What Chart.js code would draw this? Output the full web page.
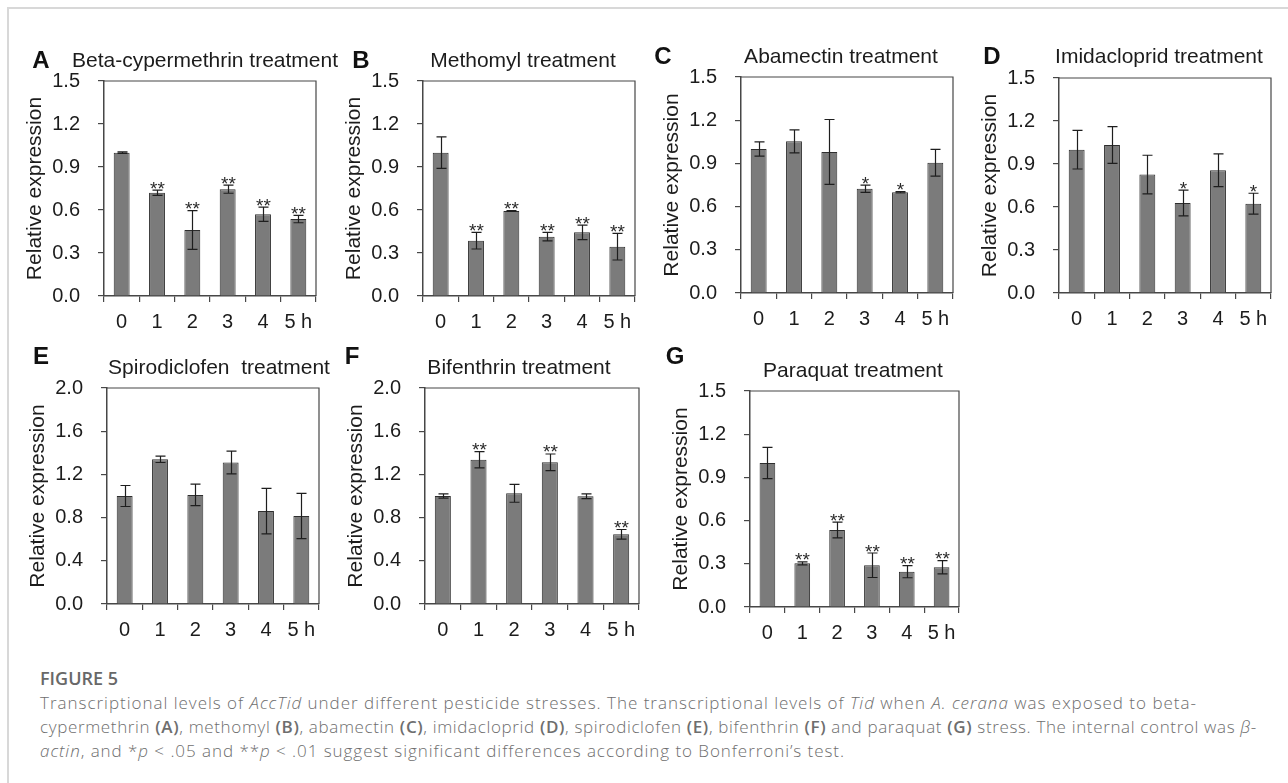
<!DOCTYPE html>
<html>
<head>
<meta charset="utf-8">
<script src="https://cdn.jsdelivr.net/npm/chart.js@4.4.1/dist/chart.umd.min.js"></script>
<style>
  html, body { margin: 0; padding: 0; background: #ffffff; }
  #page { position: relative; width: 1288px; height: 783px; overflow: hidden; background: #ffffff; }
  #frame { position: absolute; left: 7px; top: 7px; width: 1400px; height: 900px;
           border-left: 2px solid #d8d8d8; border-top: 2px solid #d8d8d8; }
  canvas.panel { position: absolute; }
  .cap { position: absolute; left: 40px; white-space: nowrap; font-family: "Open Sans", Lato, sans-serif;
         color: #6e6e6e; line-height: 24px; }
  #figLabel { top: 666px; font-size: 18px; font-weight: 600; color: #686868; }
  #capText { top: 691px; font-size: 17px; font-weight: 300; }
  #capText b { font-weight: 600; }
  #capText .ln { display: inline-block; }
</style>
</head>
<body>
<div id="page">
  <div id="frame"></div>
  <div id="figLabel" class="cap">FIGURE 5</div>
  <div id="capText" class="cap">
    <div><span class="ln" data-w="1157">Transcriptional levels of <i>AccTid</i> under different pesticide stresses. The transcriptional levels of <i>Tid</i> when <i>A. cerana</i> was exposed to beta-</span></div>
    <div><span class="ln" data-w="1217">cypermethrin <b>(A)</b>, methomyl <b>(B)</b>, abamectin <b>(C)</b>, imidacloprid <b>(D)</b>, spirodiclofen <b>(E)</b>, bifenthrin <b>(F)</b> and paraquat <b>(G)</b> stress. The internal control was <i>β</i>-</span></div>
    <div><span class="ln" data-w="805"><i>actin</i>, and *<i>p</i> &lt; .05 and **<i>p</i> &lt; .01 suggest significant differences according to Bonferroni’s test.</span></div>
  </div>
</div>
<script>
// Sampling times after exposure
const hours = ['0', '1', '2', '3', '4', '5 h'];

// Y-axis tick values
const ticksTo15 = [0, 0.3, 0.6, 0.9, 1.2, 1.5];
const ticksTo20 = [0, 0.4, 0.8, 1.2, 1.6, 2.0];

// Relative expression (mean), error (SD) and significance marks per treatment
const betaCypermethrinMean = [1.00, 0.72, 0.46, 0.745, 0.57, 0.537];
const betaCypermethrinErr  = [0.005, 0.018, 0.135, 0.028, 0.05, 0.026];
const betaCypermethrinSig  = ['', '**', '**', '**', '**', '**'];

const methomylMean = [1.00, 0.386, 0.593, 0.414, 0.444, 0.344];
const methomylErr  = [0.11, 0.058, 0.003, 0.03, 0.05, 0.093];
const methomylSig  = ['', '**', '**', '**', '**', '**'];

const abamectinMean = [1.00, 1.053, 0.98, 0.724, 0.70, 0.905];
const abamectinErr  = [0.05, 0.08, 0.225, 0.025, 0.005, 0.093];
const abamectinSig  = ['', '', '', '*', '*', ''];

const imidaclopridMean = [1.00, 1.033, 0.826, 0.628, 0.856, 0.623];
const imidaclopridErr  = [0.135, 0.128, 0.135, 0.09, 0.114, 0.073];
const imidaclopridSig  = ['', '', '', '*', '', '*'];

const spirodiclofenMean = [1.00, 1.34, 1.01, 1.31, 0.86, 0.815];
const spirodiclofenErr  = [0.097, 0.03, 0.1, 0.105, 0.21, 0.21];
const spirodiclofenSig  = ['', '', '', '', '', ''];

const bifenthrinMean = [1.00, 1.336, 1.025, 1.312, 0.997, 0.645];
const bifenthrinErr  = [0.02, 0.075, 0.083, 0.077, 0.022, 0.045];
const bifenthrinSig  = ['', '**', '', '**', '', '**'];

const paraquatMean = [1.00, 0.303, 0.535, 0.29, 0.245, 0.276];
const paraquatErr  = [0.108, 0.01, 0.055, 0.085, 0.042, 0.046];
const paraquatSig  = ['', '**', '**', '**', '**', '**'];

// Panel placement: plot box [left, top, width, height], letter and title centres (page px)
const panels = [
  { letter: 'A', title: 'Beta-cypermethrin treatment', mean: betaCypermethrinMean, err: betaCypermethrinErr, sig: betaCypermethrinSig, ticks: ticksTo15,
    plot: [104, 81, 212, 215], letterAt: [41, 61], titleAt: [205, 61] },
  { letter: 'B', title: 'Methomyl treatment', mean: methomylMean, err: methomylErr, sig: methomylSig, ticks: ticksTo15,
    plot: [423, 81, 212, 215], letterAt: [361, 61], titleAt: [523, 61] },
  { letter: 'C', title: 'Abamectin treatment', mean: abamectinMean, err: abamectinErr, sig: abamectinSig, ticks: ticksTo15,
    plot: [741, 77, 212, 216], letterAt: [663, 57], titleAt: [841, 57] },
  { letter: 'D', title: 'Imidacloprid treatment', mean: imidaclopridMean, err: imidaclopridErr, sig: imidaclopridSig, ticks: ticksTo15,
    plot: [1059, 78, 212, 215], letterAt: [992, 57], titleAt: [1159, 57] },
  { letter: 'E', title: 'Spirodiclofen  treatment', mean: spirodiclofenMean, err: spirodiclofenErr, sig: spirodiclofenSig, ticks: ticksTo20,
    plot: [107, 388, 212, 216], letterAt: [41, 357], titleAt: [219, 368] },
  { letter: 'F', title: 'Bifenthrin treatment', mean: bifenthrinMean, err: bifenthrinErr, sig: bifenthrinSig, ticks: ticksTo20,
    plot: [425, 388, 214, 216], letterAt: [352, 357], titleAt: [519, 368] },
  { letter: 'G', title: 'Paraquat treatment', mean: paraquatMean, err: paraquatErr, sig: paraquatSig, ticks: ticksTo15,
    plot: [750, 391, 209, 216], letterAt: [675, 357], titleAt: [853, 371] }
];

const FONT = "'Liberation Sans', Arial, Helvetica, sans-serif";
const INK = '#1c1c1c';
const AXIS = '#474747';

// Space reserved around the plot box inside each canvas
const PAD_LEFT = 100, PAD_TOP = 50, PAD_RIGHT = 40, PAD_BOTTOM = 45;

// Error bars with caps, plus significance asterisks above them
const errorBars = {
  id: 'errorBars',
  afterDatasetsDraw(chart, args, opts) {
    const { ctx } = chart;
    const y = chart.scales.y;
    const meta = chart.getDatasetMeta(0);
    const values = chart.data.datasets[0].data;
    ctx.save();
    ctx.strokeStyle = '#1e1e1e';
    ctx.lineWidth = 1.2;
    ctx.fillStyle = '#2a2a2a';
    ctx.font = '19px ' + FONT;
    ctx.textAlign = 'center';
    ctx.textBaseline = 'alphabetic';
    meta.data.forEach((bar, i) => {
      const m = values[i], e = opts.err[i];
      const cx = Math.round(bar.x) + 0.5;
      const yHi = y.getPixelForValue(m + e);
      const yLo = y.getPixelForValue(m - e);
      const cap = 5;
      ctx.beginPath();
      ctx.moveTo(cx, yHi); ctx.lineTo(cx, yLo);
      ctx.moveTo(cx - cap, yHi); ctx.lineTo(cx + cap, yHi);
      ctx.moveTo(cx - cap, yLo); ctx.lineTo(cx + cap, yLo);
      ctx.stroke();
      if (opts.sig[i]) ctx.fillText(opts.sig[i], cx, yHi + 4.5);
    });
    ctx.restore();
  }
};

// Top and right edges of the plot box
const plotBox = {
  id: 'plotBox',
  afterDraw(chart) {
    const { ctx, chartArea: a } = chart;
    ctx.save();
    ctx.strokeStyle = AXIS;
    ctx.lineWidth = 1.2;
    ctx.beginPath();
    ctx.moveTo(a.left, a.top); ctx.lineTo(a.right, a.top); ctx.lineTo(a.right, a.bottom);
    ctx.stroke();
    ctx.restore();
  }
};

// Panel letter and panel heading
const panelHeading = {
  id: 'panelHeading',
  afterDraw(chart, args, opts) {
    const { ctx } = chart;
    ctx.save();
    ctx.fillStyle = '#111';
    ctx.textAlign = 'center';
    ctx.textBaseline = 'middle';
    ctx.font = 'bold 24px ' + FONT;
    ctx.fillText(opts.letter, opts.letterX, opts.letterY);
    ctx.fillStyle = INK;
    ctx.font = '21px ' + FONT;
    ctx.fillText(opts.title, opts.titleX, opts.titleY);
    ctx.restore();
  }
};

const page = document.getElementById('page');

panels.forEach(p => {
  const [pl, pt, pw, ph] = p.plot;
  const cl = pl - PAD_LEFT, ct = pt - PAD_TOP;
  const cw = pw + PAD_LEFT + PAD_RIGHT, ch = ph + PAD_TOP + PAD_BOTTOM;
  const canvas = document.createElement('canvas');
  canvas.className = 'panel';
  canvas.width = cw; canvas.height = ch;
  canvas.style.left = cl + 'px'; canvas.style.top = ct + 'px';
  canvas.style.width = cw + 'px'; canvas.style.height = ch + 'px';
  page.appendChild(canvas);

  const yMax = p.ticks[p.ticks.length - 1];

  new Chart(canvas.getContext('2d'), {
    type: 'bar',
    data: {
      labels: hours,
      datasets: [{
        data: p.mean,
        backgroundColor: '#7b7b7b',
        borderColor: '#2e2e2e',
        borderWidth: 1,
        barPercentage: 0.45,
        categoryPercentage: 1
      }]
    },
    plugins: [errorBars, plotBox, panelHeading],
    options: {
      responsive: false,
      animation: false,
      devicePixelRatio: 1,
      layout: { padding: { left: 0, top: PAD_TOP, right: PAD_RIGHT, bottom: 0 } },
      plugins: {
        legend: { display: false },
        tooltip: { enabled: false },
        title: { display: false },
        errorBars: { err: p.err, sig: p.sig },
        panelHeading: {
          letter: p.letter, title: p.title,
          letterX: p.letterAt[0] - cl, letterY: p.letterAt[1] - ct,
          titleX: p.titleAt[0] - cl, titleY: p.titleAt[1] - ct
        }
      },
      scales: {
        x: {
          offset: true,
          grid: { offset: true, drawOnChartArea: false, drawTicks: true, tickLength: 6, color: AXIS, lineWidth: 1.2 },
          border: { display: true, color: AXIS, width: 1.5 },
          ticks: { color: INK, font: { family: FONT, size: 20 }, padding: 8, maxRotation: 0, autoSkip: false },
          afterFit(s) { s.height = PAD_BOTTOM; }
        },
        y: {
          min: 0,
          max: yMax,
          afterBuildTicks(s) { s.ticks = p.ticks.map(v => ({ value: v })); },
          grid: { drawOnChartArea: false, drawTicks: true, tickLength: 6, color: AXIS, lineWidth: 1.2 },
          border: { display: true, color: AXIS, width: 1.5 },
          ticks: { color: INK, font: { family: FONT, size: 20 }, padding: 18, callback: v => Number(v).toFixed(1) },
          title: { display: true, text: 'Relative expression', color: INK, font: { family: FONT, size: 21 }, padding: { top: 19, bottom: 0 } },
          afterFit(s) { s.width = PAD_LEFT; }
        }
      }
    }
  });
});

// Caption: spread each line's letters so it runs to its set width
document.querySelectorAll('#capText .ln').forEach(line => {
  const target = Number(line.dataset.w);
  const w = line.getBoundingClientRect().width;
  const chars = line.textContent.length;
  line.style.letterSpacing = ((target - w) / chars).toFixed(3) + 'px';
});
</script>
</body>
</html>
